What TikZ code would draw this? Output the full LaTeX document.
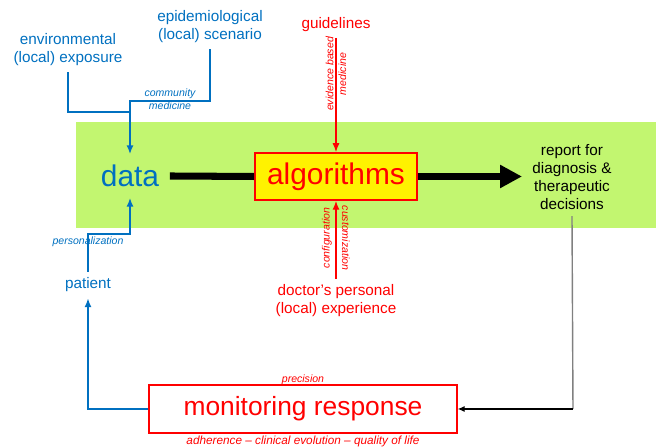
\documentclass[tikz,border=0pt]{standalone}
\usepackage{fontspec}
\setmainfont{Liberation Sans}
\usetikzlibrary{arrows.meta}
\definecolor{panelgreen}{RGB}{194,246,112}
\definecolor{dblue}{RGB}{0,112,192}
\begin{document}
\begin{tikzpicture}[scale=1,
	blue text/.style={text=dblue, align=center, font=\fontsize{8.7}{10.3}\selectfont},
	red text/.style={text=red, align=center, font=\fontsize{8.7}{10.3}\selectfont},
	small note/.style={align=center, font=\fontsize{6}{7.3}\selectfont\itshape, inner sep=1pt},
	big word/.style={font=\fontsize{17}{20}\selectfont},
	blue line/.style={dblue, line width=0.9pt, -{Latex[length=5pt,width=4pt]}},
	red line/.style={red, line width=0.7pt, -{Latex[length=5pt,width=4pt]}}]
	\useasboundingbox (0,0) rectangle (13.12,8.96);
	% band
	\fill[panelgreen] (1.52,4.40) rectangle (13.12,6.52);
	% inputs
	\node[blue text] (env) at (1.36,7.96) {environmental\\(local) exposure};
	\node[blue text] (epi) at (4.20,8.42) {epidemiological\\(local) scenario};
	\node[red text] (guide) at (6.72,8.47) {guidelines};
	\node[small note, text=dblue] (comm) at (3.40,6.98) {community\\medicine};
	\node[small note, text=red, rotate=90] (ebm) at (6.72,7.48) {evidence based\\medicine};
	% main row
	\node[big word, text=dblue, inner sep=6pt] (data) at (2.60,5.44) {data};
	\node[big word, text=red, fill=yellow, draw=red, line width=1.1pt,
		minimum width=3.24cm, minimum height=0.94cm] (algo) at (6.72,5.43) {algorithms};
	\node[align=center, font=\fontsize{8.7}{10.4}\selectfont] (report) at (11.44,5.42)
		{report for\\diagnosis \&\\therapeutic\\decisions};
	\draw[line width=4pt] (data.east) -- (algo.west);
	\draw[line width=4pt, -{Triangle[length=0.44cm,width=0.44cm]}] (algo.east) -- (10.44,5.43);
	% doctor
	\node[red text] (doc) at (6.72,2.94) {doctor's personal\\(local) experience};
	\node[small note, text=red, rotate=90] (conf) at (6.54,4.20) {configuration};
	\node[small note, text=red, rotate=-90] (cust) at (6.92,4.20) {customization};
	\draw[red line] (doc.north) -- (algo.south);
	\draw[red line] (guide.south) -- (algo.north);
	% patient side
	\node[blue text] (pat) at (1.76,3.26) {patient};
	\node[small note, text=dblue, anchor=north] (pers) at (1.76,4.27) {personalization};
	\coordinate (cm1) at (2.60,6.72);
	\coordinate (cm2) at (2.60,6.94);
	\coordinate (pz) at (2.60,4.28);
	\draw[dblue, line width=0.9pt] (env.south) |- (cm1);
	\draw[blue line] (epi.south) |- (cm2) -- (data.north);
	\draw[blue line] (pat.north) |- (pz) -- (data.south);
	% monitoring
	\node[text=red, draw=red, fill=white, line width=0.8pt, font=\fontsize{15}{18}\selectfont,
		minimum width=6.16cm, minimum height=0.96cm] (mon) at (6.06,0.78) {monitoring response};
	\node[small note, text=red] (prec) at (6.06,1.36) {precision};
	\node[small note, text=red, font=\fontsize{6.7}{8}\selectfont\itshape] (adh) at (6.06,0.14)
		{adherence -- clinical evolution -- quality of life};
	\coordinate (rc) at (11.46,0.78);
	\draw[gray, line width=0.8pt] (report.south) -- (rc);
	\draw[line width=0.7pt, -{Latex[length=4pt,width=3.5pt]}] (rc) -- (mon.east);
	\draw[blue line] (mon.west) -| (pat.south);
\end{tikzpicture}
\end{document}
